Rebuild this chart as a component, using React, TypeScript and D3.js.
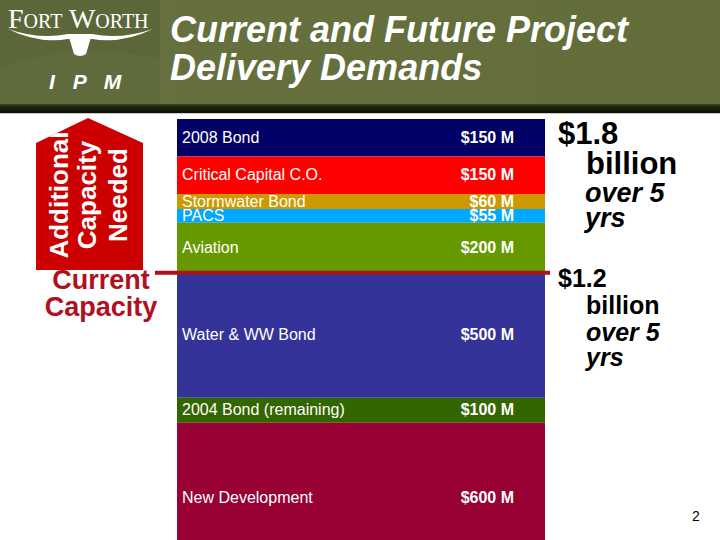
import * as d3 from 'd3';

// stacked segments, top to bottom
const categories = [
  '2008 Bond',
  'Critical Capital C.O.',
  'Stormwater Bond',
  'PACS',
  'Aviation',
  'Water & WW Bond',
  '2004 Bond (remaining)',
  'New Development',
];
const amounts = [150, 150, 60, 55, 200, 500, 100, 600]; // $ millions
const segColors = ['#000066', '#ff0000', '#cc9900', '#00a8ff', '#669900', '#333399', '#336600', '#990033'];
const additionalCount = 5; // first five segments are "additional capacity needed"

const futureText = ['$1.8', 'billion', 'over 5', 'yrs'];
const currentText = ['$1.2', 'billion', 'over 5', 'yrs'];

const W = 720;
const H = 540;
const SANS = "Arial, 'Liberation Sans', sans-serif";
const SERIF = "'Times New Roman', 'Liberation Serif', serif";

const App = () => {
  const x = d3.scaleBand<string>().domain(['demand']).range([177, 545]).padding(0);
  const total = d3.sum(amounts);
  const y = d3.scaleLinear().domain([0, total]).range([119, 119 + total * 0.25]);

  const stops = d3.cumsum(amounts);
  const segs = categories.map((c, i) => ({
    name: c,
    value: amounts[i],
    y0: i === 0 ? 0 : stops[i - 1],
    y1: stops[i],
    color: segColors[i],
  }));
  const lineY = y(stops[additionalCount - 1]);
  const bx = x('demand') ?? 0;
  const bw = x.bandwidth();

  return (
    <svg width={W} height={H} style={{ position: 'fixed', left: 0, top: 0, background: '#fff' }}>
      <defs>
        <linearGradient id="hdr" x1="0" y1="0" x2="1" y2="0">
          <stop offset="0%" stopColor="#66713f" />
          <stop offset="100%" stopColor="#626d3a" />
        </linearGradient>
        <linearGradient id="band" x1="0" y1="0" x2="0" y2="1">
          <stop offset="0%" stopColor="#3a4622" />
          <stop offset="30%" stopColor="#1c2610" />
          <stop offset="100%" stopColor="#0c1006" />
        </linearGradient>
        <clipPath id="houseClip">
          <path d="M36,143 L88,118 L143,143 L143,270 L36,270 Z" />
        </clipPath>
        <clipPath id="plot">
          <rect x={0} y={0} width={W} height={H} />
        </clipPath>
      </defs>

      {/* header */}
      <rect x={0} y={0} width={W} height={104} fill="url(#hdr)" />
      <rect x={0} y={0} width={160} height={104} fill="#5b6739" />
      <path d="M0,70 Q60,40 160,58 L160,104 L0,104 Z" fill="#63703f" opacity={0.5} />
      <rect x={0} y={104} width={W} height={9} fill="url(#band)" />
      <rect x={0} y={113} width={W} height={1} fill="#c8c8c8" />

      {/* logo */}
      <text x={8} y={28} fill="#fff" fontFamily={SERIF}>
        <tspan fontSize={28}>F</tspan>
        <tspan fontSize={20}>ORT</tspan>
        <tspan fontSize={28}> W</tspan>
        <tspan fontSize={20}>ORTH</tspan>
      </text>
      <path
        d="M8,29 Q40,40 68,34 L92,34 Q120,40 153,29 Q122,44 92,39 L68,39 Q38,44 8,29 Z"
        fill="#fff"
      />
      <path d="M68,34 L92,34 L89,44 L86,54 Q80,58 74,54 L71,44 Z" fill="#fff" />
      <text x={49} y={89} fill="#fff" fontFamily={SANS} fontWeight="bold" fontStyle="italic" fontSize={21} letterSpacing={6}>
        I P M
      </text>

      {/* title */}
      <g fill="#fff" fontFamily={SANS} fontWeight="bold" fontStyle="italic" fontSize={36}>
        <text x={170} y={42}>Current and Future Project</text>
        <text x={170} y={80}>Delivery Demands</text>
      </g>

      {/* stacked bar */}
      <g clipPath="url(#plot)">
        {segs.map((s) => (
          <rect
            key={s.name}
            x={bx}
            width={bw}
            y={y(s.y0)}
            height={y(s.y1) - y(s.y0)}
            fill={s.color}
          />
        ))}
      </g>
      <g fill="#fff" fontFamily={SANS} fontSize={16}>
        {segs.map((s) => {
          const cy = (y(s.y0) + y(s.y1)) / 2 + 5;
          return (
            <g key={s.name}>
              <text x={bx + 5} y={cy}>{s.name}</text>
              <text x={bx + 337} y={cy} textAnchor="end" fontWeight="bold">
                {`$${s.value} M`}
              </text>
            </g>
          );
        })}
      </g>

      {/* current capacity marker */}
      <line x1={155} x2={550} y1={lineY} y2={lineY} stroke="#b0101c" strokeWidth={4} />

      {/* additional capacity house */}
      <path d="M36,143 L88,118 L143,143 L143,270 L36,270 Z" fill="#cc0000" />
      <g clipPath="url(#houseClip)" fill="#fff" fontFamily={SANS} fontWeight="bold" fontSize={26} textAnchor="middle">
        <text transform="translate(68,195) rotate(-90)">Additional</text>
        <text transform="translate(96,195) rotate(-90)">Capacity</text>
        <text transform="translate(127,195) rotate(-90)">Needed</text>
      </g>
      <g fill="#b01020" fontFamily={SANS} fontWeight="bold" fontSize={27} textAnchor="middle">
        <text x={101} y={289}>Current</text>
        <text x={101} y={316}>Capacity</text>
      </g>

      {/* totals */}
      <g fill="#000" fontFamily={SANS} fontWeight="bold">
        <text x={558} y={144} fontSize={31}>{futureText[0]}</text>
        <text x={586} y={174} fontSize={31}>{futureText[1]}</text>
        <text x={585} y={202} fontSize={27} fontStyle="italic">{futureText[2]}</text>
        <text x={585} y={227} fontSize={27} fontStyle="italic">{futureText[3]}</text>

        <text x={558} y={287} fontSize={25}>{currentText[0]}</text>
        <text x={586} y={314} fontSize={25}>{currentText[1]}</text>
        <text x={586} y={341} fontSize={25} fontStyle="italic">{currentText[2]}</text>
        <text x={586} y={366} fontSize={25} fontStyle="italic">{currentText[3]}</text>
      </g>

      <text x={692} y={521} fontFamily={SANS} fontSize={14} fill="#000">2</text>
    </svg>
  );
};

export default App;
